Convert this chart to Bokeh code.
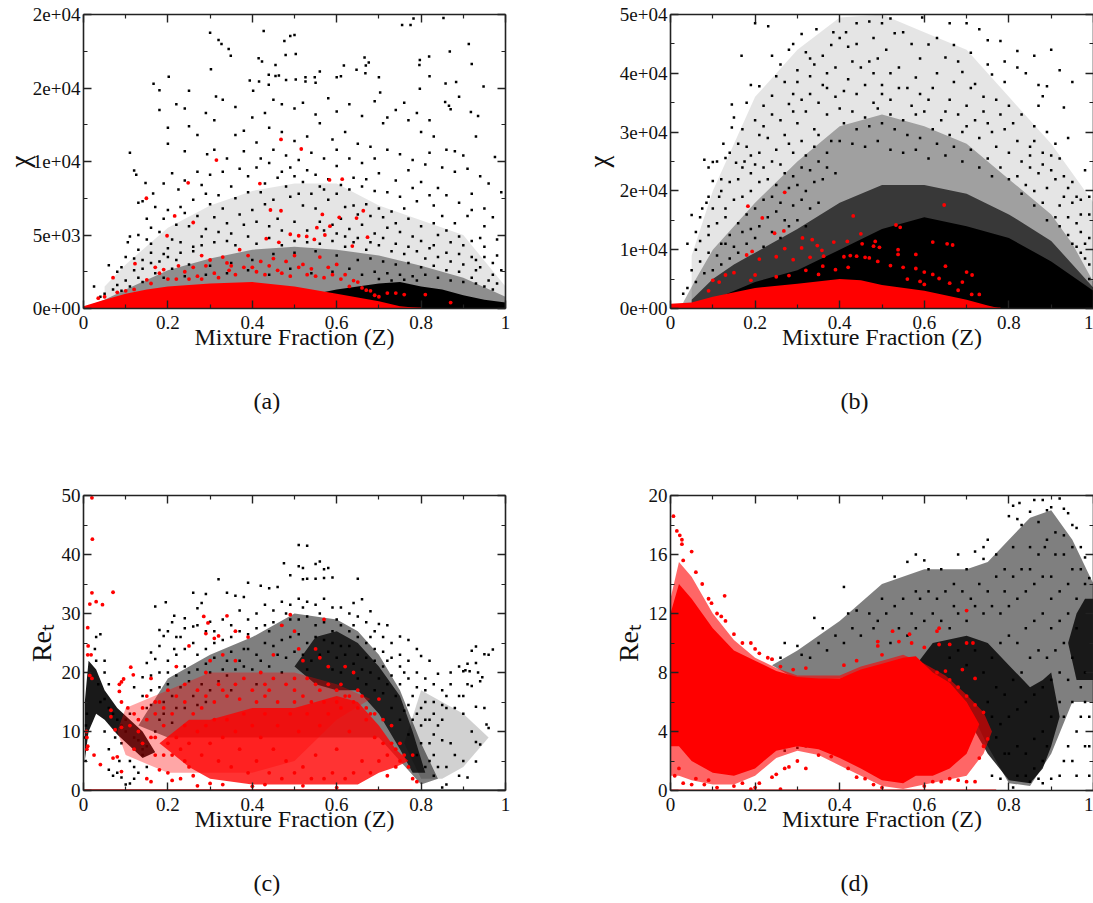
from bokeh.embed import file_html
from bokeh.resources import INLINE
from bokeh.plotting import figure
from bokeh.layouts import column, row
from bokeh.models import FixedTicker, LinearAxis, Range1d, Title

z_ticks = [0, 0.2, 0.4, 0.6, 0.8, 1]
z_minor = [0.1, 0.3, 0.5, 0.7, 0.9]
z_labels = ["0", "0.2", "0.4", "0.6", "0.8", "1"]

a_ticks = [0, 5000, 10000, 15000, 20000]
a_minor = [2500, 7500, 12500, 17500]
a_labels = ["0e+00", "5e+03", "1e+04", "2e+04", "2e+04"]
b_ticks = [0, 10000, 20000, 30000, 40000, 50000]
b_minor = [5000, 15000, 25000, 35000, 45000]
b_labels = ["0e+00", "1e+04", "2e+04", "3e+04", "4e+04", "5e+04"]
c_ticks = [0, 10, 20, 30, 40, 50]
c_minor = [5, 15, 25, 35, 45]
c_labels = ["0", "10", "20", "30", "40", "50"]
d_ticks = [0, 4, 8, 12, 16, 20]
d_minor = [2, 6, 10, 14, 18]
d_labels = ["0", "4", "8", "12", "16", "20"]

# Scattered points, (Z, value)
a_black = [(.30,18760),(.427,18870),(.32,18260),(.327,18000),(.344,17650),(.349,17200),(.302,16280),(.50,18600),(.49,18530),(.476,18200),(.479,17250),(.503,17320),(.415,17020),(.423,16800),(.455,16570),(.755,19280),(.775,19280),(.782,19730),(.853,19770),(.913,18000),(.868,17480),(.92,16640),(.819,17140),(.797,16910),(.796,16570),(.666,17070),(.676,16730),(.669,16530),(.668,16010),(.647,16240),(.617,16530),(.56,16120),(.166,15290),(.18,14840),(.202,15760),(.25,14810),(.314,14430),(.394,15510),(.416,15450),(.402,14810),(.439,15900),(.439,15220),(.455,15810),(.463,15850),(.48,15550),(.503,15570),(.526,15730),(.548,15730),(.526,15450),(.55,15350),(.6,15730),(.61,15800),(.70,15730),(.703,14700),(.82,15800),(.948,15100),(.858,15300),(.883,15400),(.797,14950),(.89,14400),(.857,14050),(.866,13800),(.87,13550),(.918,13370),(.935,13100),(.22,13900),(.24,13600),(.11,10600),(.12,9380),(.125,9100),(.147,8530),(.14,7300),(.165,7830),(.13,7200),(.19,8500),(.21,9200),(.225,8100),(.27,9300),(.293,10500),(.31,10800),(.34,10200),(.36,11800),(.38,12100),(.40,13000),(.41,11300),(.44,12300),(.47,12000),(.50,11400),(.53,11700),(.56,12600),(.59,11500),(.62,12000),(.65,11200),(.68,11000),(.71,12600),(.74,13500),(.77,12800),(.80,12000),(.83,11700),(.86,10800),(.90,10400),(.93,11700),(.96,8500),(.975,10300),(.99,7900),(.95,6800),(.92,7800),(.88,9300),(.84,8200),(.81,9800),(.77,9400),(.74,8700),(.70,9200),(.67,8800),(.64,8900),(.60,9700),(.55,9100),(.52,8600),(.49,9600),(.46,8900),(.43,8500),(.39,9000),(.35,8300),(.32,7700),(.29,7800),(.26,7400),(.23,6900),(.20,6700),(.17,6900),(.15,6100),(.11,4900),(.105,4500),(.13,5000),(.15,4700),(.18,5200),(.21,4700),(.25,5600),(.28,4900),(.31,6200),(.34,5800),(.37,6400),(.40,6700),(.43,7100),(.46,6100),(.49,7600),(.52,7000),(.55,6800),(.58,7400),(.61,6100),(.64,7000),(.67,7100),(.70,6800),(.73,6600),(.76,6800),(.79,7300),(.82,7700),(.85,6300),(.88,5800),(.91,6300),(.94,4800),(.97,6200),(.99,2600),(.97,3100),(.95,3500),(.93,3300),(.9,4300),(.87,4500),(.84,5000),(.08,2500),(.09,2800),(.06,2950),(.025,1500),(.10,3500),(.12,3400),(.14,3300),(.16,3800),(.19,3700),(.22,3300),(.82,4100),(.78,4900),(.75,5200),(.72,5500),(.69,5100),(.66,5700),(.63,5400),(.60,5100),(.57,5300)]
a_black2 = [(.33,14200),(.36,13700),(.29,13300),(.31,12800),(.25,12400),(.2,12300),(.27,11800),(.24,10700),(.2,11200),(.18,13500),(.43,13300),(.45,14200),(.47,13900),(.5,13600),(.52,14000),(.55,13200),(.58,14300),(.6,13400),(.63,13900),(.66,13100),(.69,14100),(.72,13000),(.76,14000),(.79,13300),(.82,12800),(.38,10700),(.42,10200),(.45,10800),(.48,10400),(.51,10100),(.54,10600),(.57,10200),(.6,10800),(.63,10200),(.66,9900),(.69,10200),(.72,10800),(.75,10500),(.78,10100),(.82,10600),(.85,9600),(.88,10700),(.91,9500),(.94,9000),(.24,8700),(.28,8400),(.3,9100),(.33,9300),(.37,9500),(.41,9600),(.44,9900),(.47,9300),(.5,9000),(.53,9400),(.56,8300),(.58,8800),(.61,8400),(.63,8100),(.66,8300),(.69,8000),(.72,7900),(.75,7600),(.78,8200),(.8,8600),(.83,7000),(.86,7700),(.89,7200),(.92,6700),(.95,5600),(.98,4700),(.16,5500),(.19,6100),(.22,5700),(.24,6500),(.27,6300),(.3,7100),(.33,6800),(.36,7500),(.39,7900),(.42,7900),(.45,7400),(.48,8300),(.51,7800),(.54,7800),(.57,8100),(.6,7800),(.62,6900),(.65,6400),(.68,6300),(.71,6200),(.74,5800),(.77,6100),(.8,5600),(.83,5800),(.86,5300),(.89,4900),(.92,4600),(.95,4200),(.98,3600),(.13,4000),(.16,4400),(.2,4100),(.23,4500),(.26,4200),(.29,5400),(.32,5200),(.35,5100),(.38,5700),(.41,5900),(.44,5600),(.47,5300),(.5,5900),(.53,5300),(.56,5900),(.59,5700),(.62,4900),(.65,4800),(.68,4500),(.71,4800),(.74,4400),(.77,4200),(.8,4600),(.83,4300),(.86,3800),(.89,3700),(.92,3500),(.94,2800),(.97,2300),(.12,2600),(.14,2700),(.16,3100),(.18,3200),(.2,3500),(.23,3800),(.26,3900),(.28,4300),(.31,4500),(.34,4600),(.36,4300),(.39,4900),(.41,4400),(.44,4800),(.47,4300),(.5,4600),(.53,4500),(.56,4400),(.59,4600),(.62,4200),(.64,4500),(.67,4000),(.7,4300),(.73,3900),(.76,3700),(.79,3900),(.81,3400),(.84,3500),(.87,3200),(.9,3000),(.93,2600),(.96,1900),(.98,1700),(.65,3300),(.68,3400),(.71,3200),(.74,3000),(.77,3100),(.8,2800),(.83,2900),(.86,2600),(.89,2500),(.92,2100),(.95,1500),(.69,2500),(.72,2400),(.75,2300),(.78,2200),(.81,2300),(.84,2100),(.87,1900),(.9,1800),(.93,1700),(.97,1300),(.6,3600),(.55,3900),(.5,3800),(.45,3700),(.4,3300),(.35,3100),(.3,2900),(.25,3000),(.21,2700),(.17,2400),(.13,2100),(.1,1900),(.08,1600),(.05,1000),(.04,800),(.07,1300),(.09,1200),(.11,1500),(.14,1800),(.19,2100),(.24,2200),(.29,2300),(.34,2400),(.39,2600),(.44,2300),(.49,2700),(.54,2400),(.59,2500),(.63,2700),(.66,2300),(.7,2000),(.73,1900),(.76,1950),(.79,1900)]
a_red = [(.468,11500),(.516,10850),(.315,10100),(.583,8750),(.613,8800),(.248,8550),(.418,8500),(.149,7500),(.663,6650),(.443,6700),(.468,6650),(.566,6400),(.216,6300),(.26,5850),(.606,6200),(.647,6150),(.584,5600),(.553,5500),(.198,4950),(.49,5050),(.51,4950),(.529,4900),(.547,4700),(.572,5000),(.433,4750),(.463,4500),(.673,4850),(.637,4250),(.122,3050),(.17,2800),(.19,2650),(.2,2000),(.07,2100),(.28,3600),(.30,3300),(.33,3500),(.35,2900),(.37,4000),(.39,3600),(.40,2800),(.42,3200),(.44,2900),(.46,2600),(.48,3200),(.50,3600),(.52,3000),(.54,2700),(.56,3500),(.58,2800),(.6,3000),(.62,2300),(.64,1900),(.66,1400),(.68,1200),(.72,1050),(.74,1050),(.76,950),(.81,950),(.87,400),(.24,2500),(.26,2800),(.31,2400),(.345,2600),(.41,2500),(.47,2400),(.53,2300),(.57,2100),(.15,1950),(.18,2400),(.225,2900),(.27,2200),(.29,2900),(.32,2100),(.34,3100),(.36,2300),(.38,2800),(.43,2300),(.45,3400),(.49,2200),(.51,2800),(.55,2200),(.59,2300),(.61,2000),(.63,1500),(.65,1800),(.67,1250),(.69,900),(.7,800),(.28,2000),(.25,2000),(.22,2000),(.16,1700),(.12,1300),(.1,1200),(.08,1100),(.05,800),(.035,700)]

b_black = [(.2,48500),(.231,48000),(.29,45000),(.31,46700),(.345,47500),(.385,47000),(.415,47000),(.44,48500),(.47,48800),(.5,48500),(.52,49300),(.595,49500),(.66,48500),(.7,48500),(.53,46800),(.57,45000),(.67,44800),(.73,47500),(.75,45600),(.78,45500),(.82,43800),(.86,43000),(.90,44000),(.92,40500),(.93,34200),(.94,29000),(.95,38500),(.89,37800),(.88,36100),(.87,34500),(.82,41000),(.79,38500),(.76,39800),(.72,38200),(.69,40200),(.65,42700),(.61,44900),(.47,42000),(.42,44500),(.38,44800),(.33,42500),(.24,43000),(.25,39500),(.27,38500),(.30,40500),(.34,41500),(.37,40000),(.43,42000),(.48,40000),(.5,38000),(.54,41000),(.58,39300),(.62,37500),(.66,35500),(.7,34500),(.74,36000),(.78,33000),(.81,31500),(.85,27500),(.88,24500),(.92,25500),(.95,21500),(.97,18500),(.99,16000),(.98,23500),(.96,19000),(.94,20500),(.91,22000),(.8,34500),(.168,43000),(.145,34700),(.18,35000),(.19,38000),(.21,37800),(.22,34500),(.24,36200),(.28,34800),(.31,35500),(.145,30800),(.15,32500),(.17,30500),(.2,32000),(.125,28000),(.16,28000),(.18,27500),(.21,29500),(.08,25300),(.1,24900),(.13,25600),(.155,24800),(.175,25000),(.09,24000),(.075,17000),(.05,15900),(.07,15500),(.085,18000),(.1,21700),(.12,22000),(.06,13000),(.09,14000),(.1,17000),(.115,19000),(.04,11000),(.06,10000),(.13,17000),(.16,22000),(.2,24500),(.23,29000),(.26,32000),(.3,31500),(.35,35000),(.39,36000),(.46,38000),(.52,35500),(.6,33500),(.64,32000),(.7,31000),(.76,30000),(.85,24000),(.93,19000),(.86,28500),(.9,26000),(.84,21000),(.97,13000),(.99,12000),(.96,10500),(.98,8500),(.99,5000)]
b_black2 = [(.28,44000),(.32,43600),(.36,43000),(.4,46000),(.44,45000),(.48,46000),(.51,44000),(.55,47000),(.59,42500),(.63,46000),(.68,42000),(.71,43500),(.75,41500),(.79,42000),(.84,40000),(.87,38000),(.26,41500),(.3,38500),(.33,39500),(.36,38000),(.39,41000),(.42,39000),(.45,41000),(.49,42500),(.52,40000),(.56,37500),(.59,36500),(.63,40000),(.67,38500),(.71,37500),(.74,33500),(.77,35500),(.83,33000),(.86,31000),(.89,30000),(.91,28000),(.29,36500),(.33,36500),(.37,37500),(.41,37000),(.44,36500),(.48,35000),(.5,36500),(.54,37500),(.57,34500),(.61,35500),(.65,33500),(.68,33000),(.72,32000),(.75,31500),(.79,30500),(.82,28500),(.85,26000),(.88,26500),(.9,23500),(.93,22500),(.95,18000),(.97,16000),(.99,19000),(.22,31000),(.24,33000),(.27,29500),(.29,33500),(.32,33500),(.34,30500),(.37,33000),(.4,34000),(.43,33500),(.46,32500),(.49,34000),(.52,33000),(.55,32000),(.58,33000),(.62,30500),(.66,29500),(.69,30000),(.73,29000),(.77,27500),(.8,26500),(.83,25000),(.87,23000),(.89,20500),(.92,17500),(.94,15500),(.96,14500),(.98,11000),(.11,25000),(.14,26500),(.19,26000),(.21,26500),(.25,27000),(.28,28000),(.31,28500),(.35,29500),(.38,28500),(.41,31500),(.44,30500),(.47,31000),(.5,31500),(.53,30500),(.56,29500),(.59,29000),(.63,28000),(.67,27500),(.71,27000),(.75,25500),(.78,24000),(.82,22500),(.86,20000),(.88,18000),(.91,15500),(.94,12500),(.97,9500),(.99,7500),(.09,19000),(.12,20000),(.14,21500),(.17,24000),(.19,23000),(.22,24000),(.24,25000),(.26,24500),(.29,26500),(.32,26000),(.34,27500),(.37,26500),(.4,28500),(.43,28000),(.46,27500),(.49,28500),(.52,27000),(.55,26500),(.58,27000),(.61,25500),(.65,26000),(.69,25000),(.73,24000),(.76,22500),(.8,22000),(.83,19500),(.86,17500),(.89,15000),(.92,14000),(.95,11000),(.07,11500),(.09,12500),(.11,14500),(.13,15500),(.15,18500),(.17,19000),(.19,20000),(.21,21500),(.23,22000),(.25,21000),(.27,23000),(.29,22500),(.31,24000),(.33,23500),(.35,25000),(.37,24000),(.39,23000),(.12,11000),(.14,12500),(.16,14500),(.18,16000),(.2,17000),(.22,18500),(.24,19000),(.26,18000),(.28,20500),(.3,21000),(.32,20000),(.34,21500),(.36,22000),(.05,6500),(.07,8000),(.09,9500),(.11,9000),(.13,11000),(.15,10500),(.17,13000),(.19,13500),(.21,14000),(.23,15500),(.25,16500),(.27,15000),(.29,17500),(.31,18500),(.33,17000),(.35,18000),(.03,2500),(.04,3500),(.06,4500),(.08,6000),(.1,6500),(.12,7500),(.14,8500),(.16,9500),(.18,11000),(.2,12000),(.22,10500),(.24,13000),(.26,12000),(.28,14000),(.3,15000),(.32,14000)]
b_red = [(.27,19750),(.183,17400),(.647,17600),(.217,15400),(.432,15750),(.533,14200),(.543,13800),(.246,12800),(.268,13200),(.45,12700),(.312,12000),(.335,11700),(.453,11000),(.484,11400),(.418,11400),(.386,11300),(.62,11300),(.347,10700),(.667,10800),(.654,11000),(.27,10200),(.31,10300),(.358,9900),(.48,10600),(.494,10400),(.538,10000),(.18,9100),(.193,9700),(.21,8400),(.25,8800),(.29,8300),(.33,8700),(.362,8900),(.41,8800),(.425,9000),(.44,8900),(.46,8700),(.47,8600),(.49,8000),(.538,9200),(.58,9200),(.65,7200),(.52,7300),(.55,7000),(.58,6800),(.6,6200),(.7,6200),(.713,5700),(.62,5800),(.635,5100),(.66,4300),(.69,4500),(.68,3100),(.712,2400),(.73,2400),(.13,5700),(.15,6100),(.2,5700),(.25,5400),(.28,5600),(.32,6500),(.36,7200),(.39,6600),(.42,7000),(.1,4800),(.115,4500),(.09,3000),(.19,4800),(.35,5800),(.56,5000),(.59,4600),(.6,4100)]

c_black = [(.51,41.6),(.53,41.5),(.475,38.5),(.51,38),(.52,37.7),(.55,38.4),(.56,38.8),(.57,37.5),(.58,37.7),(.49,36.5),(.52,35.8),(.53,35.9),(.59,36.1),(.57,36),(.55,35.9),(.32,35.8),(.39,35.2),(.42,34.7),(.44,34.3),(.46,34.5),(.65,35.9),(.26,33.5),(.29,33.3),(.34,33.5),(.36,33),(.38,32.8),(.66,32.4),(.64,31.8),(.68,30.4),(.7,28.2),(.72,28),(.75,26.1),(.77,25.5),(.79,24),(.8,22.8),(.17,31.2),(.195,31.9),(.27,30.9),(.28,31.8),(.215,29.6),(.21,28.5),(.24,29.2),(.27,28),(.18,27.2),(.19,26.2),(.16,23.4),(.17,22.3),(.15,21.6),(.18,24.5),(.215,24),(.23,26),(.26,25),(.29,27),(.16,19.5),(.14,19.2),(.12,17.5),(.2,20),(.25,20),(.82,22),(.84,19.8),(.87,20),(.89,21),(.9,20.2),(.91,21.5),(.905,20.4),(.915,20.2),(.93,24.4),(.92,23.7),(.97,23.9),(.96,23),(.95,23.1),(.93,21.6),(.935,20),(.945,19.2),(.94,18.5),(.91,18),(.92,17.7),(.89,16),(.86,16),(.86,14),(.88,14),(.9,13),(.93,14.2),(.95,14),(.955,11.2),(.96,10.6),(.92,10),(.93,8.2),(.94,7.8),(.93,4.9),(.9,5),(.88,6),(.86,4),(.89,2.5),(.91,2.2),(.86,1),(.85,.5),(.82,12),(.84,11),(.87,8),(.83,6),(.82,8),(.8,14),(.81,17),(.83,15),(.85,12),(.03,26),(.027,24),(.04,26.5),(.05,22),(.05,20),(.06,18),(.05,10),(.06,7),(.06,3.5),(.07,2.5),(.08,3),(.085,5),(.09,2.2),(.1,1),(.11,1.2),(.11,5),(.12,4),(.12,2),(.13,3),(.14,6),(.15,4),(.075,9),(.09,8),(.1,10),(.005,5),(.007,7),(.004,9),(.006,11),(.008,13),(.11,13),(.13,12),(.15,14),(.18,12),(.22,14),(.26,16),(.3,20),(.34,22),(.38,24),(.44,27),(.48,30),(.52,31),(.56,30),(.6,29),(.64,28),(.68,26),(.72,22),(.76,20),(.78,16),(.8,11)]
c_black2 = [(.2,27),(.22,26),(.24,27.5),(.26,27.8),(.3,28.6),(.31,27),(.33,29),(.35,28),(.37,30.5),(.39,29),(.41,30),(.43,31.5),(.45,30.5),(.47,32),(.49,31.5),(.51,32.5),(.53,32),(.55,31.5),(.57,32.5),(.59,31),(.61,31),(.63,30),(.65,29.5),(.67,28.5),(.69,27),(.71,26),(.73,25),(.75,23),(.77,22),(.79,20),(.81,19),(.83,18),(.85,17),(.87,18),(.9,16),(.18,20),(.2,22),(.22,23),(.24,24),(.27,23),(.29,24),(.31,25),(.33,25.5),(.35,26),(.37,27),(.39,26.5),(.41,27.5),(.43,28),(.45,28.5),(.47,28),(.49,29),(.51,29),(.53,29.5),(.55,28),(.57,28.5),(.59,27),(.61,28),(.63,27),(.65,26),(.67,25),(.69,24),(.71,23.5),(.73,22.5),(.75,21),(.77,19),(.79,17.5),(.81,15),(.83,13),(.85,14.5),(.16,17),(.18,17.5),(.2,18),(.22,19.5),(.24,21),(.27,20.5),(.29,21.5),(.31,22.5),(.33,20.5),(.35,23.5),(.37,22),(.39,24),(.41,23),(.43,25),(.45,24.5),(.47,25.5),(.49,26),(.51,26.5),(.53,25),(.55,26),(.57,25.5),(.59,25),(.61,24.5),(.63,24.5),(.65,23),(.67,22.5),(.69,22),(.71,21),(.73,19.5),(.75,18),(.77,14.5),(.79,13),(.81,12),(.83,9.5),(.85,8.5),(.14,16),(.16,14.5),(.19,15),(.21,16),(.23,17.5),(.25,18.5),(.28,18),(.3,17),(.32,18.5),(.34,19.5),(.36,20.5),(.38,21),(.4,20.5),(.42,22),(.44,21),(.46,23),(.48,22.5),(.5,23.5),(.52,23),(.54,22),(.56,23),(.58,23.5),(.6,22.5),(.62,23),(.64,21.5),(.66,20.5),(.68,20),(.7,19),(.72,18),(.74,16),(.76,13.5),(.78,12),(.8,8),(.82,5),(.84,4),(.17,10),(.19,13),(.21,11.5),(.24,14),(.27,14.5),(.29,15),(.35,17),(.41,18),(.47,20),(.53,20.5),(.59,20.5),(.61,20),(.65,19),(.67,18),(.69,17),(.71,16.5),(.73,14),(.75,12),(.77,9.5),(.79,6),(.81,4),(.83,2.5),(.03,22),(.035,18),(.04,15),(.05,15.5),(.06,14),(.07,13),(.08,12),(.09,11),(.1,12),(.12,9),(.13,8.5),(.14,7),(.15,7.5)]
c_red = [(.02,49.6),(.021,42.6),(.02,33.5),(.07,33.6),(.015,31.6),(.03,32),(.045,31.5),(.01,27.6),(.011,24.5),(.01,23),(.018,23),(.015,19.5),(.02,19),(.007,10),(.008,9),(.01,7.5),(.008,7),(.025,6),(.04,4.4),(.07,5.5),(.08,5.7),(.09,3.2),(.065,13.6),(.065,12.5),(.075,10.3),(.09,10.7),(.09,15),(.085,16.8),(.09,18.4),(.095,18.9),(.085,18),(.112,20.9),(.118,19.6),(.105,14),(.12,13),(.13,12),(.14,14),(.15,16),(.16,19),(.17,13),(.18,15),(.19,11),(.2,17),(.22,21),(.24,18),(.25,24.5),(.285,29.5),(.295,28.4),(.29,26.6),(.31,25.8),(.32,26.2),(.34,29.6),(.3,22),(.29,20),(.33,23),(.36,22),(.36,27),(.39,26),(.42,20),(.43,18),(.45,23),(.47,28),(.49,29.8),(.5,27),(.51,24),(.52,22),(.5,19),(.55,24),(.56,22.5),(.58,21),(.57,29),(.62,21),(.64,20),(.66,16),(.68,13),(.7,15.5),(.71,12),(.73,11),(.75,8),(.76,6),(.77,4),(.78,2),(.79,1.5),(.78,6),(.74,4),(.72,2.5),(.16,9),(.17,6),(.18,3.5),(.15,2),(.16,1.5),(.2,3),(.21,1.7),(.24,5),(.23,2),(.26,2.5),(.27,0.8),(.3,1.2),(.33,1),(.4,.7),(.43,1),(.52,.8),(.6,.5),(.28,14),(.33,17),(.38,19),(.44,17),(.5,15),(.55,18),(.6,17),(.63,16)]
c_red2 = [(.11,11),(.13,10),(.15,12),(.17,15),(.19,14),(.21,13),(.22,16),(.24,15),(.26,13),(.27,17),(.29,16),(.31,15),(.32,18),(.34,16),(.36,18),(.37,15.5),(.4,17),(.41,15),(.43,16),(.45,19),(.46,15),(.48,18),(.5,17),(.52,16),(.53,19),(.54,15),(.56,17),(.57,15),(.58,18),(.6,15),(.61,18),(.62,16),(.64,15),(.65,17),(.67,14),(.69,13),(.22,9),(.24,11),(.25,8),(.27,10),(.28,6),(.29,11),(.3,8),(.31,12),(.32,5),(.33,9),(.34,12),(.35,4),(.36,10),(.37,7),(.38,13),(.39,3),(.4,11),(.41,5),(.42,9),(.43,13),(.44,3),(.45,7),(.46,11),(.47,2),(.48,5),(.49,13),(.5,3),(.51,10),(.52,4),(.53,13),(.54,2),(.55,6),(.56,11),(.57,2),(.58,13),(.59,3),(.6,7),(.61,14),(.62,2),(.63,10),(.64,3),(.65,14),(.66,5),(.67,12),(.68,3),(.69,9),(.7,5),(.71,8),(.72,6),(.73,8),(.74,7),(.75,5),(.12,7),(.14,8),(.17,9),(.19,6),(.2,8),(.21,6),(.23,7),(.25,4)]

d_black = [(.41,13.8),(.34,11.7),(.36,11),(.27,10),(.3,9.8),(.31,9.2),(.26,9),(.24,8.9),(.42,12),(.44,12.2),(.5,13),(.48,11),(.53,14.5),(.56,15.5),(.58,16),(.6,15.6),(.61,15),(.58,13.5),(.64,15),(.67,14),(.68,16),(.7,15),(.72,16.2),(.74,15.7),(.75,17),(.74,16.5),(.77,16),(.79,15),(.81,16.5),(.8,18.6),(.82,18.4),(.81,19.3),(.825,19.5),(.83,18),(.85,18.9),(.86,19.7),(.88,19.7),(.87,18.2),(.89,19),(.9,19.2),(.92,19.8),(.93,19.1),(.94,18.8),(.95,18),(.96,17.8),(.97,16.5),(.98,15.8),(.99,14.4),(.93,17.3),(.91,17.5),(.885,16.5),(.85,15),(.9,14.5),(.95,15),(.99,3),(.98,3),(.99,1),(.96,1),(.95,2),(.96,4),(.97,5),(.98,6),(.93,5),(.94,3),(.93,2),(.92,1),(.88,.5),(.9,.8),(.99,5),(.98,8),(.97,7),(.95,6),(.81,.2),(.78,.8),(.76,1),(.79,2.5),(.77,3.6),(.76,5),(.05,4.9),(.06,4.5),(.07,5.3),(.28,3),(.29,3.2),(.3,2.9),(.31,3.3),(.32,3),(.27,2.7),(.26,3.3),(.33,3),(.285,3.7),(.3,3.5)]
d_black2 = [(.33,9),(.35,10),(.37,9.5),(.39,10.5),(.41,10),(.43,11),(.45,10.5),(.47,12),(.49,11.5),(.51,12),(.53,12.5),(.55,13),(.57,12),(.59,13),(.61,13.5),(.63,13),(.65,13.5),(.67,12.5),(.69,13.5),(.71,13),(.73,14),(.75,13.5),(.77,14.5),(.79,13.5),(.81,14.5),(.83,15),(.85,16.5),(.87,16),(.89,17),(.91,16),(.93,16),(.95,16.5),(.97,15),(.98,14),(.52,10),(.54,11),(.56,10.5),(.58,11),(.6,11.5),(.62,12),(.64,11.5),(.66,11),(.68,12),(.7,11.5),(.72,12.5),(.74,12),(.76,12.5),(.78,12),(.8,12.5),(.82,13),(.84,13.5),(.86,14),(.88,14.5),(.9,13),(.92,13.5),(.94,14),(.96,13),(.66,9),(.68,9.5),(.7,8.5),(.72,9.5),(.74,8),(.76,9),(.78,10),(.8,10.5),(.82,10),(.84,11),(.86,11.5),(.88,12),(.9,11),(.92,11.5),(.94,12),(.96,11),(.75,6),(.77,7),(.79,6.5),(.81,7.5),(.83,8),(.85,9),(.87,9.5),(.89,9),(.91,9.5),(.93,10),(.95,9),(.78,4.5),(.8,5),(.82,5.5),(.84,6),(.86,6.5),(.88,7),(.9,7.5),(.92,8),(.94,7.5),(.8,2.5),(.82,3),(.84,2.5),(.86,3.5),(.88,4),(.9,5),(.92,6),(.82,1),(.84,1),(.86,1.5),(.88,2),(.89,3),(.85,.6),(.87,.8)]
d_red = [(.007,18.6),(.015,17.6),(.022,17.3),(.027,17),(.027,16.7),(.05,16.2),(.03,15.6),(.06,14.8),(.075,14),(.128,13.2),(.097,12.7),(.11,12),(.12,11.8),(.13,11.5),(.09,13),(.15,10.6),(.17,10),(.19,10),(.2,9.6),(.21,9.3),(.23,9),(.24,8.9),(.26,8.4),(.29,8.2),(.32,8.3),(.7,12.2),(.525,10.8),(.565,10.6),(.635,11),(.63,10.8),(.49,10.1),(.49,9.8),(.54,10.1),(.57,10),(.6,9.7),(.635,9.9),(.66,9.9),(.7,10),(.715,10),(.69,8.2),(.65,8.1),(.72,7.6),(.44,8.8),(.41,8.5),(.49,7.5),(.5,9.2),(.01,1),(.02,1.5),(.03,.5),(.05,.4),(.06,.8),(.08,.4),(.09,.7),(.11,.2),(.15,.3),(.17,.5),(.19,.1),(.2,.2),(.21,.5),(.24,.9),(.25,1.1),(.26,.1),(.27,1.5),(.28,1.6),(.3,2),(.32,1.5),(.35,2.4),(.38,2.3),(.42,1.5),(.44,.9),(.46,.8),(.48,.4),(.5,.2),(.6,.3),(.62,.6),(.64,.6),(.66,.8),(.68,.7),(.7,.6),(.72,.6),(.73,2.2),(.74,3),(.75,3.5),(.74,5.3),(.72,5.8),(.7,6.4),(.68,7),(.66,7.5),(.63,8)]

# Region outlines, (Z, lower, upper)
a_light = [(.05,0,1500),(.1,0,3000),(.2,0,5500),(.3,0,7000),(.4,0,8000),(.5,0,8500),(.6,0,8500),(.7,0,7000),(.8,0,6000),(.9,0,5000),(1,0,1500)]
a_mid = [(0,0,50),(.05,0,600),(.1,0,1300),(.2,0,2600),(.3,0,3400),(.4,0,4000),(.5,0,4200),(.6,0,4000),(.7,0,3600),(.8,0,2900),(.9,0,2100),(1,0,800)]
a_dense = [(.55,0,1000),(.6,0,1300),(.65,0,1500),(.7,0,1700),(.75,0,1800),(.8,0,1500),(.85,0,1300),(.9,0,900),(.95,0,600),(1,0,400)]
a_redcore = [(0,0,150),(.05,0,600),(.1,0,1000),(.15,0,1300),(.2,0,1500),(.3,0,1700),(.4,0,1800),(.5,0,1500),(.6,0,1000),(.7,0,500),(.75,0,150),(.8,0,10)]

b_light = [(.05,0,9000),(.1,0,20000),(.2,0,36000),(.3,0,44000),(.4,0,49500),(.5,0,50000),(.6,0,47000),(.7,0,44000),(.8,0,36000),(.9,0,28000),(1,0,18000)]
b_mid = [(.03,0,1000),(.06,0,5000),(.1,0,10000),(.2,0,18000),(.3,0,25000),(.4,0,31000),(.5,0,33000),(.6,0,31000),(.7,0,28000),(.8,0,22000),(.9,0,16000),(.95,0,11000),(1,0,4500)]
b_dark = [(.05,0,1500),(.1,0,5000),(.15,0,7500),(.2,0,9500),(.3,0,13500),(.4,0,18000),(.5,0,21000),(.6,0,21000),(.7,0,19500),(.8,0,16000),(.9,0,11500),(1,0,3500)]
b_dense = [(.1,0,1500),(.2,0,4500),(.3,0,6500),(.4,0,10000),(.5,0,13500),(.6,0,15500),(.7,0,14000),(.8,0,12000),(.9,0,8000),(1,0,3000)]
b_redcore = [(0,0,800),(.05,0,1000),(.1,0,2000),(.2,0,3500),(.3,0,4200),(.4,0,5000),(.45,0,4800),(.5,0,4000),(.6,0,3000),(.7,0,1500),(.75,0,500),(.78,0,10)]

c_arch = [(.13,11,11),(.2,9,19),(.3,9,23),(.4,9,26),(.5,9,30),(.6,9,29),(.65,9,27),(.7,9,23),(.75,5,17),(.8,1,8),(.84,2,2)]
c_ridge = [(.5,21,21),(.55,18,26),(.6,17,27),(.65,17,25),(.7,13,21),(.75,7,16),(.78,3,10),(.81,3,3)]
c_streak = [(.003,5,15),(.012,10,22),(.03,13,20.5),(.05,12,17),(.08,9.5,14),(.11,7.5,12),(.14,5.5,10),(.17,6.5,6.5)]
c_tail = [(.76,8,8),(.8,2,17),(.85,2,15),(.9,4,13),(.96,9,9)]
c_redup = [(.08,10,10),(.1,6,14),(.2,3,17),(.3,3,20),(.4,3,20),(.5,5,20),(.6,12,18),(.68,15.5,15.5)]
c_redcore = [(.18,8,8),(.25,4,12),(.3,2,12),(.4,1,14),(.5,1,14),(.6,1,16),(.65,1,15),(.7,3,11),(.74,4,7),(.77,5,5)]

d_light = [(.24,8.5,8.5),(.3,7.5,9.5),(.4,7.6,11.5),(.5,8.5,14),(.6,8,15),(.7,6,15),(.75,3,15.5),(.8,.5,17),(.85,.3,18.5),(.9,2.5,19),(.95,6,17),(1,6,14)]
d_dark = [(.58,8.5,8.5),(.62,7.5,10),(.7,5,10.5),(.75,2.5,10),(.8,.7,8.5),(.85,.5,7),(.88,1.5,7.5),(.9,3,8),(.92,5,5)]
d_edge = [(.94,10,10),(.96,7.5,12),(.98,7.5,13),(1,7.5,13)]
d_redfringe = [(0,1,13),(.02,1,15.5),(.05,.7,14.5),(.1,.4,12),(.15,.4,10.2),(.2,1,9),(.25,2.2,8.3),(.3,2.7,7.8),(.35,2.4,7.8),(.4,1.7,7.8),(.45,1,8.4),(.5,.3,8.8),(.55,.1,9.2),(.6,.4,8.6),(.65,.7,7.8),(.7,1,6.5),(.74,2.5,5.3),(.76,4,4)]
d_redcore = [(0,3,12),(.02,3,14),(.05,2,13),(.1,1.2,11),(.15,1,9.5),(.2,1.5,8.8),(.25,2.7,8.1),(.3,3,7.7),(.35,2.8,7.6),(.4,2.2,7.6),(.45,1.5,8.2),(.5,.7,8.6),(.55,.5,9),(.58,1,9.1),(.62,1,8),(.66,1.5,7.3),(.7,2.5,6),(.73,4.5,4.5)]

a_base_end = 0.8
b_base_end = 0.78
c_base_end = 0.78
d_base_end = 0.77

FONT = "Liberation Serif"


def band(p, rows, color, alpha):
    z, lo, hi = zip(*rows)
    p.varea(x=list(z), y1=list(lo), y2=list(hi), fill_color=color, fill_alpha=alpha)


def black_dots(p, pts):
    z, v = zip(*pts)
    p.scatter(list(z), list(v), size=2.5, marker="square", fill_color="black", line_color=None)


def red_dots(p, pts):
    z, v = zip(*pts)
    p.scatter(list(z), list(v), size=3.8, marker="circle", fill_color="#ff0000", line_color=None)


def panel(ticks, minor, labels, ymax, name, ylabel, size_y, w, h, left, right, top, bottom, standoff):
    p = figure(width=w, height=h, output_backend="svg", toolbar_location=None,
               x_range=Range1d(0, 1), y_range=Range1d(0, ymax),
               min_border_left=left, min_border_right=right, min_border_top=top, min_border_bottom=bottom,
               outline_line_color=None, background_fill_color="white")
    p.grid.visible = False
    xa = p.xaxis[0]
    ya = p.yaxis[0]
    xa.ticker = FixedTicker(ticks=z_ticks, minor_ticks=z_minor)
    ya.ticker = FixedTicker(ticks=ticks, minor_ticks=minor)
    xa.major_label_overrides = dict(zip(z_ticks, z_labels))
    ya.major_label_overrides = dict(zip(ticks, labels))
    xa.axis_label = "Mixture Fraction (Z)"
    ya.axis_label = ylabel
    xa.axis_label_standoff = -8
    ya.axis_label_standoff = standoff
    xa.major_label_standoff = 7
    ya.major_label_standoff = 3
    top_ax = LinearAxis(ticker=FixedTicker(ticks=z_ticks, minor_ticks=z_minor),
                        major_label_overrides={t: "" for t in z_ticks})
    right_ax = LinearAxis(ticker=FixedTicker(ticks=ticks, minor_ticks=minor),
                          major_label_overrides={t: "" for t in ticks})
    p.add_layout(top_ax, "above")
    p.add_layout(right_ax, "right")
    for ax in [top_ax, right_ax]:
        ax.major_label_standoff = 0
        ax.major_label_text_font_size = "1px"
    for ax in [xa, ya, top_ax, right_ax]:
        ax.axis_line_color = "#222222"
        ax.axis_line_width = 1.6
        ax.major_tick_line_color = "#222222"
        ax.major_tick_line_width = 1.4
        ax.minor_tick_line_color = "#222222"
        ax.minor_tick_line_width = 1.2
        ax.major_tick_in = 8
        ax.major_tick_out = 0
        ax.minor_tick_in = 4
        ax.minor_tick_out = 0
    for ax in [xa, ya]:
        ax.major_label_text_font = FONT
        ax.major_label_text_font_size = "19px"
        ax.major_label_text_color = "#111111"
        ax.axis_label_text_font = FONT
        ax.axis_label_text_font_style = "normal"
        ax.axis_label_text_color = "#111111"
    xa.axis_label_text_font_size = "24px"
    ya.axis_label_text_font_size = size_y
    p.add_layout(Title(text=" ", standoff=0, text_font=FONT, text_font_size="28px"), "below")
    p.add_layout(Title(text=name, align="left", offset=170, standoff=0, text_font=FONT,
                       text_font_size="24px", text_font_style="normal", text_color="#111111"), "below")
    return p


pa = panel(a_ticks, a_minor, a_labels, 20000, "(a)", "χ", "27px", 550, 460, 83, 45, 14, 152, -5)
band(pa, a_light, "black", 0.1)
band(pa, a_mid, "black", 0.38)
band(pa, a_dense, "black", 1)
black_dots(pa, a_black)
black_dots(pa, a_black2)
band(pa, a_redcore, "#ff0000", 1)
red_dots(pa, a_red)
pa.line([0, a_base_end], [0, 0], line_color="#ff0000", line_width=2)

pb = panel(b_ticks, b_minor, b_labels, 50000, "(b)", "χ", "27px", 543, 460, 120, 0, 14, 152, 3)
band(pb, b_light, "black", 0.1)
band(pb, b_mid, "black", 0.3)
band(pb, b_dark, "black", 0.65)
band(pb, b_dense, "black", 1)
black_dots(pb, b_black)
black_dots(pb, b_black2)
band(pb, b_redcore, "#ff0000", 1)
red_dots(pb, b_red)
pb.line([0, b_base_end], [0, 0], line_color="#ff0000", line_width=2)

pc = panel(c_ticks, c_minor, c_labels, 50, "(c)", "Reₜ", "28px", 550, 438, 83, 45, 35, 108, 2)
band(pc, c_tail, "black", 0.18)
band(pc, c_arch, "black", 0.5)
band(pc, c_ridge, "black", 0.75)
band(pc, c_streak, "black", 0.9)
black_dots(pc, c_black)
black_dots(pc, c_black2)
band(pc, c_redup, "#ff0000", 0.35)
band(pc, c_redcore, "#ff0000", 0.8)
red_dots(pc, c_red)
red_dots(pc, c_red2)
pc.line([0, 1], [0, 0], line_color="black", line_width=2)
pc.line([0, c_base_end], [0, 0], line_color="#ff0000", line_width=2)

pd = panel(d_ticks, d_minor, d_labels, 20, "(d)", "Reₜ", "28px", 543, 438, 120, 0, 35, 108, 2)
band(pd, d_light, "black", 0.5)
band(pd, d_dark, "black", 0.8)
band(pd, d_edge, "black", 0.8)
black_dots(pd, d_black)
black_dots(pd, d_black2)
band(pd, d_redfringe, "#ff0000", 0.6)
band(pd, d_redcore, "#ff0000", 1)
red_dots(pd, d_red)
pd.line([0, d_base_end], [0, 0], line_color="#ff0000", line_width=2)

page = column(row(pa, pb, spacing=0), row(pc, pd, spacing=0), spacing=0)
open("out.html", "w").write(file_html(page, INLINE))
